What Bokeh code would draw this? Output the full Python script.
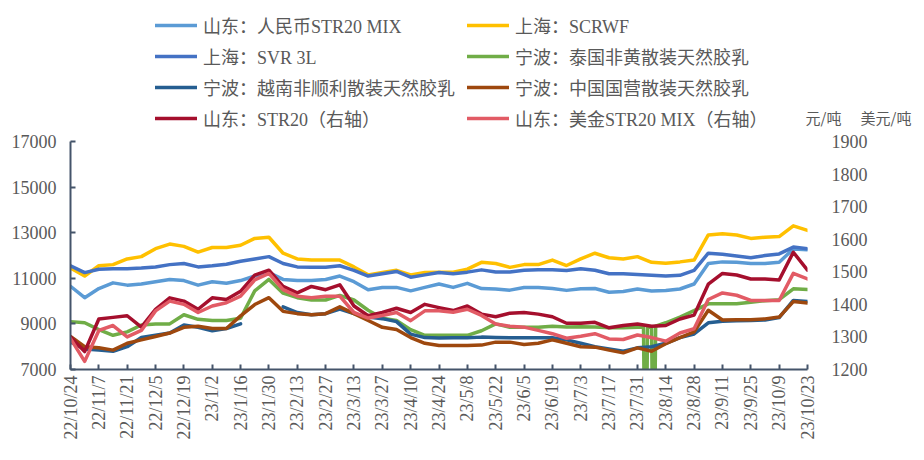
import datetime as dt
from bokeh.plotting import figure
from bokeh.layouts import column
from bokeh.models import Range1d, LinearAxis, FixedTicker, Legend, LegendItem, Label
from bokeh.embed import file_html
from bokeh.resources import INLINE

# ---------------- data ----------------
start = dt.datetime(2022, 10, 24)
week_dates = [start + dt.timedelta(days=7 * i) for i in range(53)]

tick_labels = ["22/10/24", "22/11/7", "22/11/21", "22/12/5", "22/12/19", "23/1/2", "23/1/16",
               "23/1/30", "23/2/13", "23/2/27", "23/3/13", "23/3/27", "23/4/10", "23/4/24",
               "23/5/8", "23/5/22", "23/6/5", "23/6/19", "23/7/3", "23/7/17", "23/7/31",
               "23/8/14", "23/8/28", "23/9/11", "23/9/25", "23/10/9", "23/10/23"]
left_ticks = [7000, 9000, 11000, 13000, 15000, 17000]
right_ticks = [1200, 1300, 1400, 1500, 1600, 1700, 1800, 1900]
unit_labels = ["元/吨", "美元/吨"]

NaN = float("nan")

sd_rmb_mix = [10650, 10150, 10550, 10800, 10700, 10750, 10850, 10950, 10900,
              10700, 10850, 10780, 10900, 11100, 11250, 10950, 10900,
              10900, 10950, 11100, 10850, 10500, 10600, 10600, 10450, 10600,
              10750, 10600, 10780, 10550, 10530, 10480, 10600, 10600, 10550,
              10470, 10540, 10550, 10390, 10420, 10530, 10440, 10470,
              10530, 10750, 11650, 11720, 11700, 11650, 11650, 11700, 12290, 12250]
sh_scrwf = [11450, 11100, 11550, 11600, 11850, 11950, 12300, 12500, 12400,
            12150, 12350, 12350, 12450, 12750, 12800, 12100, 11850,
            11800, 11800, 11800, 11500, 11150, 11250, 11350, 11150, 11250,
            11270, 11270, 11400, 11700, 11650, 11480, 11600, 11600, 11800,
            11560, 11850, 12100, 11900, 11850, 11950, 11700, 11660,
            11720, 11800, 12900, 12950, 12900, 12750, 12800, 12830, 13300, 13100]
sh_svr3l = [11550, 11250, 11400, 11420, 11420, 11450, 11500, 11600, 11650,
            11500, 11550, 11620, 11750, 11850, 11950, 11650, 11500,
            11480, 11480, 11550, 11350, 11100, 11200, 11300, 11050, 11150,
            11250, 11200, 11270, 11370, 11280, 11280, 11350, 11370, 11380,
            11340, 11420, 11350, 11200, 11200, 11170, 11130, 11100,
            11130, 11350, 12100, 12050, 11980, 11900, 12000, 12070, 12370, 12300]
nb_thai = [9100, 9050, 8750, 8500, 8650, 8950, 9000, 9000, 9400,
           9200, 9150, 9150, 9250, 10450, 10950, 10350, 10150,
           10050, 10050, 10250, 10050, 9600, 9250, 9150, 8750, 8500,
           8500, 8500, 8500, 8700, 9000, 8850, 8850, 8850, 8900,
           8860, 8880, 8860, 8830, 8830, 8850, 8850, 9050,
           9300, 9580, 9880, 9880, 9880, 9950, 10020, 10060, 10540, 10510]
nb_thai_extra_dates = ["2023-08-03", "2023-08-04", "2023-08-05", "2023-08-08", "2023-08-09"]
nb_thai_extra_vals = [8850, 0, 8850, 0, 8900]
nb_vietnam = [8200, 7900, 7850, 7800, 8000, 8400, 8500, 8600, 8950,
              8850, 8700, 8800, 9000, NaN, NaN, 9750, 9500,
              9400, 9450, 9650, 9450, 9300, 9230, 9100, 8550, 8400,
              8380, 8390, 8390, 8420, 8400, 8390, 8390, 8390, 8390,
              8300, 8150, 8000, 7900, 7800, 7950, 8000, 8150,
              8400, 8560, 9050, 9120, 9140, 9150, 9170, 9280, 10030, 9980]
nb_china = [8450, 8000, 7950, 7850, 8150, 8300, 8450, 8600, 8850,
            8900, 8800, 8800, 9350, 9850, 10150, 9550, 9450,
            9400, 9450, 9750, 9450, 9150, 8850, 8750, 8400, 8150,
            8050, 8050, 8050, 8070, 8200, 8200, 8100, 8150, 8300,
            8150, 8000, 7980, 7850, 7730, 7950, 7800, 8130,
            8400, 8650, 9600, 9170, 9180, 9180, 9220, 9300, 9980, 9920]
sd_str20 = [1300, 1255, 1355, 1360, 1365, 1330, 1385, 1420, 1410,
            1385, 1420, 1415, 1440, 1490, 1505, 1455, 1435,
            1455, 1445, 1460, 1395, 1365, 1375, 1388, 1375, 1400,
            1390, 1381, 1395, 1370, 1362, 1373, 1375, 1370, 1362,
            1342, 1342, 1345, 1328, 1335, 1340, 1333, 1335,
            1355, 1367, 1462, 1495, 1490, 1478, 1478, 1475, 1560, 1505]
sd_usd_mix = [1295, 1225, 1320, 1335, 1300, 1320, 1380, 1410, 1400,
              1375, 1395, 1405, 1425, 1475, 1495, 1445, 1425,
              1420, 1425, 1425, 1375, 1358, 1366, 1375, 1350, 1380,
              1380, 1376, 1385, 1366, 1340, 1333, 1330, 1320, 1310,
              1296, 1302, 1310, 1294, 1292, 1306, 1298, 1287,
              1312, 1325, 1415, 1435, 1428, 1412, 1412, 1412, 1495, 1478]

series_names = ["山东：人民币STR20 MIX", "上海：SCRWF", "上海：SVR 3L",
                "宁波：泰国非黄散装天然胶乳", "宁波：越南非顺利散装天然胶乳",
                "宁波：中国国营散装天然胶乳", "山东：STR20（右轴）", "山东：美金STR20 MIX（右轴）"]
series_colors = ["#5B9BD5", "#FFC000", "#4472C4", "#70AD47", "#255E91", "#9E480E",
                 "#A50F2D", "#E25B65"]

# ---------------- helpers ----------------
def parse_tick(s):
    y, m, d = s.split("/")
    return dt.datetime(2000 + int(y), int(m), int(d))

EPOCH = dt.datetime(1970, 1, 1)
def ms(d):
    return (d - EPOCH).total_seconds() * 1000.0

tick_dates = [parse_tick(s) for s in tick_labels]
tick_ms = [ms(d) for d in tick_dates]

g_pairs = list(zip(week_dates, nb_thai)) + [
    (dt.datetime.strptime(s, "%Y-%m-%d"), v) for s, v in zip(nb_thai_extra_dates, nb_thai_extra_vals)]
g_pairs.sort(key=lambda t: t[0])
g_dates = [t[0] for t in g_pairs]
g_vals = [t[1] for t in g_pairs]

series_x = [week_dates, week_dates, week_dates, g_dates, week_dates, week_dates, week_dates, week_dates]
series_y = [sd_rmb_mix, sh_scrwf, sh_svr3l, g_vals, nb_vietnam, nb_china, sd_str20, sd_usd_mix]
series_axis = ["default"] * 6 + ["right", "right"]

AXIS_COL = "#44546A"
LABEL_COL = "#595959"
NUM_FONT = "Liberation Serif"
LW = 3.5

# ---------------- layout geometry (page pixels) ----------------
W, TOTAL_H = 922, 458
TOP_H = 131
FR_L, FR_R, FR_T, FR_B = 70, 807, 141, 369   # frame edges on the page

# ---------------- top strip: legend and units ----------------
top = figure(width=W, height=TOP_H, output_backend="svg", toolbar_location=None,
             x_axis_type="datetime",
             x_range=Range1d(0, 1), y_range=Range1d(0, 1),
             x_axis_location=None, y_axis_location=None, frame_align=False,
             min_border=0, min_border_left=0, min_border_right=0,
             min_border_top=0, min_border_bottom=0)
top.outline_line_color = None
top.grid.visible = False

items = []
for name, xs, ys, col in zip(series_names, series_x, series_y, series_colors):
    # legend proxy of the same series; its data lies outside this strip's ranges
    proxy = top.line(xs, ys, line_color=col, line_width=LW, line_cap="round")
    items.append(LegendItem(label=name, renderers=[proxy]))

ROW_SP = 5
legend = Legend(items=items, orientation="horizontal", ncols=2,
                location=(155, 0),
                glyph_width=42, glyph_height=22, label_height=22, label_width=264 - ROW_SP,
                label_standoff=6, spacing=ROW_SP, padding=0, margin=0,
                border_line_color=None, background_fill_alpha=0,
                label_text_font="'Liberation Serif', 'Noto Sans CJK SC'",
                label_text_font_size="18px", label_text_color=LABEL_COL)
top.add_layout(legend)

for txt, xpx in zip(unit_labels, [805, 860]):
    top.add_layout(Label(x=xpx, y=TOP_H - 117, x_units="screen", y_units="screen", text=txt,
                         text_font="Noto Sans CJK SC", text_font_size="15px",
                         text_color=LABEL_COL, text_baseline="middle", text_align="left"))

# ---------------- main chart ----------------
H = TOTAL_H - TOP_H
X0, X1 = tick_ms[0], tick_ms[-1]

p = figure(width=W, height=H, x_axis_type="datetime", output_backend="svg",
           toolbar_location=None, frame_align=False,
           x_range=Range1d(X0, X1), y_range=Range1d(7000, 17000),
           min_border_left=FR_L, min_border_right=W - FR_R,
           min_border_top=FR_T - TOP_H, min_border_bottom=TOTAL_H - FR_B)
p.extra_y_ranges = {"right": Range1d(1200, 1900)}
p.outline_line_color = None
p.xgrid.visible = False
p.ygrid.visible = False

xa = p.xaxis[0]
xa.ticker = FixedTicker(ticks=tick_ms)
xa.major_label_overrides = {t: s for t, s in zip(tick_ms, tick_labels)}
xa.major_label_orientation = 3.14159265 / 2
xa.axis_line_color = AXIS_COL
xa.axis_line_width = 2
xa.major_tick_line_color = AXIS_COL
xa.major_tick_line_width = 2
xa.major_tick_in = 5
xa.major_tick_out = 0
xa.minor_tick_line_color = None
xa.major_label_text_font = NUM_FONT
xa.major_label_text_font_size = "18px"
xa.major_label_text_color = LABEL_COL
xa.major_label_standoff = 6

ya = p.yaxis[0]
ya.ticker = FixedTicker(ticks=left_ticks)
ya.axis_line_color = AXIS_COL
ya.axis_line_width = 2
ya.major_tick_line_color = AXIS_COL
ya.major_tick_line_width = 2
ya.major_tick_in = 5
ya.major_tick_out = 0
ya.minor_tick_line_color = None
ya.major_label_text_font = NUM_FONT
ya.major_label_text_font_size = "18px"
ya.major_label_text_color = LABEL_COL
ya.major_label_standoff = 14

ra = LinearAxis(y_range_name="right", ticker=FixedTicker(ticks=right_ticks))
ra.axis_line_color = None
ra.major_tick_line_color = None
ra.minor_tick_line_color = None
ra.major_label_text_font = NUM_FONT
ra.major_label_text_font_size = "18px"
ra.major_label_text_color = LABEL_COL
ra.major_label_standoff = 18
p.add_layout(ra, "right")

for xs, ys, col, rng in zip(series_x, series_y, series_colors, series_axis):
    p.line(xs, ys, line_color=col, line_width=LW, line_join="round", line_cap="round",
           y_range_name=rng)

layout = column(top, p, spacing=0)
open("out.html", "w").write(file_html(layout, INLINE))
